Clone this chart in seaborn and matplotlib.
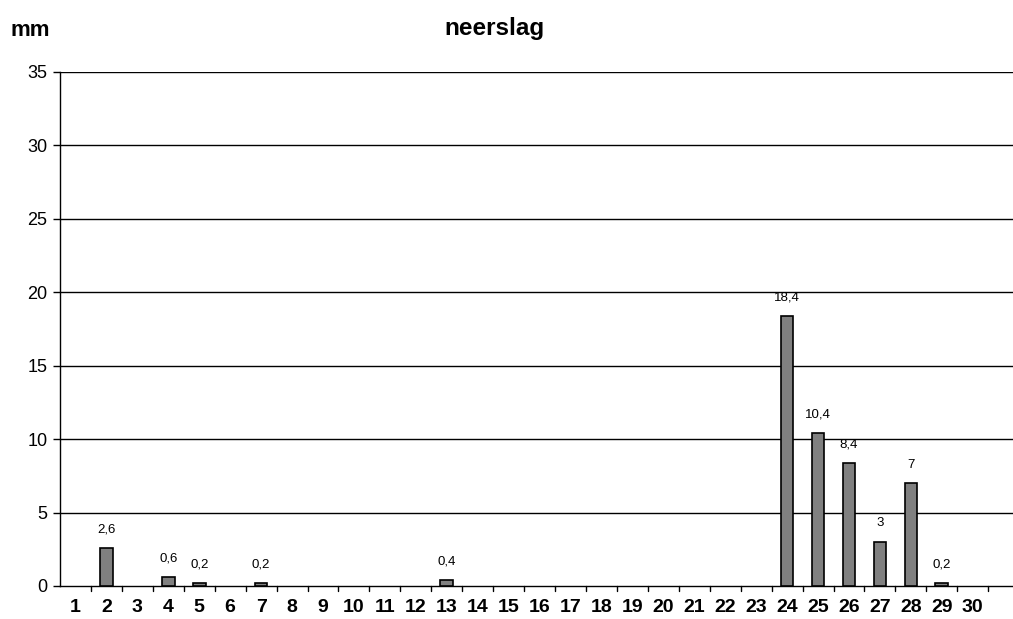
import matplotlib
matplotlib.use("Agg")
import matplotlib.pyplot as plt
import seaborn as sns
import pandas as pd
import numpy as np

days = [str(d) for d in range(1, 31)]
rain = [0, 2.6, 0, 0.6, 0.2, 0, 0.2, 0, 0, 0, 0, 0, 0.4, 0, 0, 0, 0, 0, 0, 0, 0, 0, 0, 18.4, 10.4, 8.4, 3, 7, 0.2, 0]
y_ticks = [0, 5, 10, 15, 20, 25, 30, 35]

sns.set_theme(style="white")
plt.rcParams['font.family'] = ['Liberation Sans', 'DejaVu Sans']
plt.rcParams['text.color'] = 'black'
plt.rcParams['xtick.color'] = 'black'
plt.rcParams['ytick.color'] = 'black'

df = pd.DataFrame({"dag": days, "mm": rain})

fig = plt.figure(figsize=(10.13, 6.19), dpi=100)
ax = fig.add_axes([60/1013, 1 - 586/619, 1 - 60/1013, (586 - 72)/619])

sns.barplot(data=df, x="dag", y="mm", order=days, color="#808080",
            saturation=1, width=0.41, edgecolor="black", linewidth=1.2, ax=ax, zorder=3)
for p in ax.patches:
    if p.get_height() == 0:
        p.set_visible(False)

ax.set_ylim(0, 35)
ax.set_xlim(-0.5, 30.3)
ax.set_yticks(y_ticks)
ax.set_yticklabels([str(v) for v in y_ticks], fontsize=13)
for v in y_ticks[1:]:
    ax.axhline(v, color="black", linewidth=1, zorder=1)

ax.set_xticks(range(30))
ax.set_xticklabels(days, fontsize=14, fontweight="bold")
ax.tick_params(axis="x", length=0, pad=9)
ax.tick_params(axis="y", length=5, width=1, direction="out", left=True, pad=4)
for b in np.arange(0.5, 30.5, 1.0):
    ax.plot([b, b], [0, -0.35], color="black", linewidth=1, clip_on=False, zorder=4)
ax.set_xlabel("")
ax.set_ylabel("")

for s in ["top", "right"]:
    ax.spines[s].set_visible(False)
for s in ["left", "bottom"]:
    ax.spines[s].set_color("black")
    ax.spines[s].set_linewidth(1)

for i, v in enumerate(rain):
    if v > 0:
        lab = f"{v:g}".replace(".", ",")
        ax.annotate(lab, (i, v), xytext=(0, 9), textcoords="offset points",
                    ha="center", va="bottom", fontsize=9.5, color="black")

fig.text(10/1013, 1 - 30/619, "mm", fontsize=16, fontweight="bold", ha="left", va="center")
fig.text(494/1013, 1 - 28/619, "neerslag", fontsize=17.5, fontweight="bold", ha="center", va="center")

fig.savefig("out.png", dpi=100)
